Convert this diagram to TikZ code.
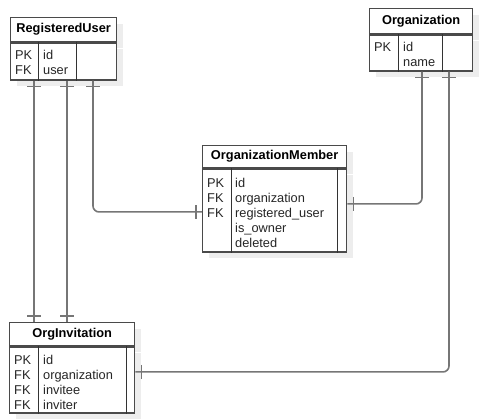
\documentclass[tikz,border=0pt]{standalone}
\usepackage{fontspec}
\setmainfont{Liberation Sans}
\usetikzlibrary{positioning,shadows,decorations.markings}
\definecolor{boxline}{HTML}{4A4A4A}
\definecolor{relline}{HTML}{767676}
\definecolor{shade}{HTML}{EDEDED}

\begin{document}
\begin{tikzpicture}[x=1pt, y=-1pt,
    tbl/.style={draw=boxline, line width=1.3pt, fill=white, anchor=north west,
                inner sep=0pt,
                drop shadow={shadow xshift=6pt, shadow yshift=-6pt, fill=shade, opacity=1}},
    hd/.style={tbl, font=\bfseries\fontsize{12.8}{15}\selectfont},
    bd/.style={tbl},
    col/.style={anchor=north west, inner sep=0pt, align=left,
                font=\fontsize{12.8}{15}\selectfont, text=black!85},
    dv/.style={line width=0.9pt, black!80},
    rel/.style={draw=relline, line width=1.6pt, rounded corners=6pt,
                postaction={decorate},
                decoration={markings,
                  mark=at position 6pt with {\draw[relline, line width=1.4pt] (0,-7pt) -- (0,7pt);},
                  mark=at position -6pt with {\draw[relline, line width=1.4pt] (0,-7pt) -- (0,7pt);}}}
  ]
    \useasboundingbox (0,0) rectangle (482,419);

    % RegisteredUser
    \node[hd, minimum width=106, minimum height=24] (ru) at (10,17) {RegisteredUser};
    \node[bd, minimum width=106, minimum height=37] (rub) at (ru.south west) {};
    \draw[dv] ([xshift=28pt]rub.north west) -- ([xshift=28pt]rub.south west);
    \draw[dv] ([xshift=66pt]rub.north west) -- ([xshift=66pt]rub.south west);
    \node[col] (rub-k) at ([xshift=5pt, yshift=-8pt]rub.north west) {PK\\FK};
    \node[col] (rub-f) at ([xshift=33pt, yshift=-8pt]rub.north west) {id\\user};

    % Organization
    \node[hd, minimum width=103, minimum height=25] (org) at (369,8) {Organization};
    \node[bd, minimum width=103, minimum height=36] (orgb) at (org.south west) {};
    \draw[dv] ([xshift=29pt]orgb.north west) -- ([xshift=29pt]orgb.south west);
    \draw[dv] ([xshift=73pt]orgb.north west) -- ([xshift=73pt]orgb.south west);
    \node[col] (orgb-k) at ([xshift=5pt, yshift=-8pt]orgb.north west) {PK};
    \node[col] (orgb-f) at ([xshift=34pt, yshift=-8pt]orgb.north west) {id\\name};

    % OrganizationMember
    \node[hd, minimum width=144, minimum height=22] (om) at (202,145) {OrganizationMember};
    \node[bd, minimum width=144, minimum height=83] (omb) at (om.south west) {};
    \draw[dv] ([xshift=29pt]omb.north west) -- ([xshift=29pt]omb.south west);
    \draw[dv] ([xshift=135pt]omb.north west) -- ([xshift=135pt]omb.south west);
    \node[col] (omb-k) at ([xshift=5pt, yshift=-10pt]omb.north west) {PK\\FK\\FK};
    \node[col] (omb-f) at ([xshift=33pt, yshift=-10pt]omb.north west)
      {id\\organization\\registered\_user\\is\_owner\\deleted};

    % OrgInvitation
    \node[hd, minimum width=125, minimum height=23] (oi) at (9,322) {OrgInvitation};
    \node[bd, minimum width=125, minimum height=66] (oib) at (oi.south west) {};
    \draw[dv] ([xshift=29pt]oib.north west) -- ([xshift=29pt]oib.south west);
    \draw[dv] ([xshift=117pt]oib.north west) -- ([xshift=117pt]oib.south west);
    \node[col] (oib-k) at ([xshift=5pt, yshift=-9pt]oib.north west) {PK\\FK\\FK\\FK};
    \node[col] (oib-f) at ([xshift=34pt, yshift=-9pt]oib.north west)
      {id\\organization\\invitee\\inviter};

    % relations
    \draw[rel] ([xshift=24pt]rub.south west) coordinate (ru1) -- (ru1 |- oi.north);
    \draw[rel] ([xshift=57pt]rub.south west) coordinate (ru2) -- (ru2 |- oi.north);
    \draw[rel] ([xshift=83pt]rub.south west) |- ([yshift=-1.5pt]omb.west);
    \draw[rel] ([xshift=53pt]orgb.south west) |- ([yshift=6.5pt]omb.east);
    \draw[rel] ([xshift=80pt]orgb.south west) |- ([yshift=8pt]oib.east);
  \end{tikzpicture}
\end{document}
